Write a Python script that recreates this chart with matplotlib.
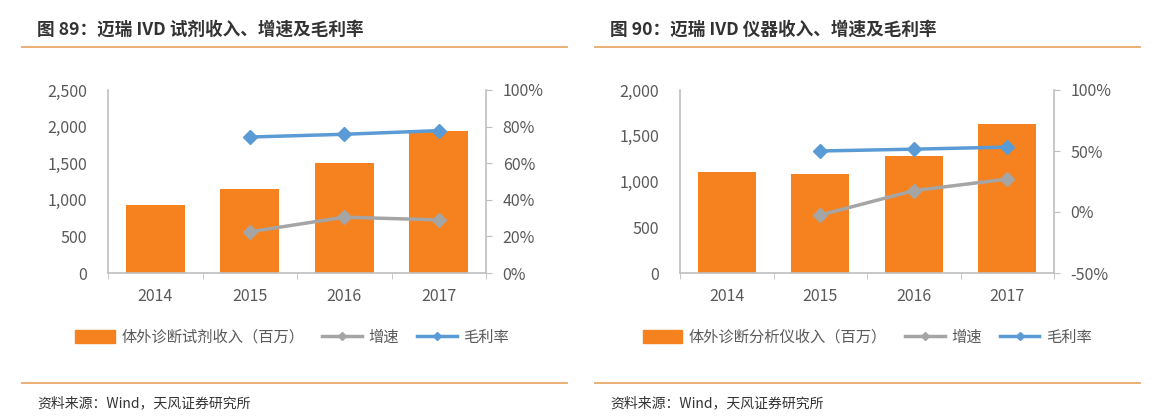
import matplotlib.pyplot as plt
from matplotlib.lines import Line2D
from matplotlib.patches import Patch
from matplotlib.ticker import FuncFormatter, FixedLocator

plt.rcParams['font.family'] = ['Noto Sans CJK SC', 'DejaVu Sans']

years = ['2014', '2015', '2016', '2017']

# 图 89: reagent revenue (million), growth and gross margin
reagent_rev = [935, 1148, 1500, 1945]
reagent_growth = [None, 22.5, 30.5, 29.0]
reagent_margin = [None, 74.3, 75.8, 77.8]

# 图 90: instrument revenue (million), growth and gross margin
instr_rev = [1108, 1082, 1280, 1632]
instr_growth = [None, -2.5, 17.5, 27.0]
instr_margin = [None, 50.0, 51.5, 53.2]

titles = ['图 89：迈瑞 IVD 试剂收入、增速及毛利率', '图 90：迈瑞 IVD 仪器收入、增速及毛利率']
bar_labels = ['体外诊断试剂收入（百万）', '体外诊断分析仪收入（百万）']
source = '资料来源：Wind，天风证券研究所'

ORANGE = '#F5821F'
GRAY = '#A5A5A5'
BLUE = '#5B9BD5'
SPINE = '#BFBFBF'
TXT = '#595959'
RULE = '#E9A86A'

W, H = 1153, 418
fig = plt.figure(figsize=(W / 100, H / 100), dpi=100)


def px_axes(x0, y0, x1, y1):
    return fig.add_axes([x0 / W, 1 - y1 / H, (x1 - x0) / W, (y1 - y0) / H])


def panel(box, rev, growth, margin, lmax, lstep, rmin, rmax, rstep, frame_x, title, blabel, legend_x):
    ax = px_axes(*box)
    x = range(len(years))
    ax.bar(x, rev, width=0.62, color=ORANGE, zorder=2)
    ax.set_xlim(-0.5, len(years) - 0.5)
    ax.set_ylim(0, lmax)
    ax.set_yticks(range(0, lmax + 1, lstep))
    ax.yaxis.set_major_formatter(FuncFormatter(lambda v, p: f'{int(v):,}'))
    ax.set_xticks(list(x))
    ax.set_xticklabels(years)
    ax.xaxis.set_minor_locator(FixedLocator([i - 0.5 for i in range(len(years) + 1)]))
    ax.tick_params(axis='x', which='major', length=0, pad=11, labelsize=11.5, colors=TXT)
    ax.tick_params(axis='x', which='minor', length=4, color=SPINE)
    ax.tick_params(axis='y', length=0, pad=15, labelsize=11.5, colors=TXT)
    for s in ['top', 'right']:
        ax.spines[s].set_visible(False)
    for s in ['left', 'bottom']:
        ax.spines[s].set_color(SPINE)
        ax.spines[s].set_linewidth(1.2)

    ax2 = ax.twinx()
    xs = [i for i, v in enumerate(growth) if v is not None]
    ax2.plot(xs, [growth[i] for i in xs], color=GRAY, lw=2.5, marker='D', ms=7, zorder=3)
    ax2.plot(xs, [margin[i] for i in xs], color=BLUE, lw=2.5, marker='D', ms=7, zorder=3)
    ax2.set_ylim(rmin, rmax)
    ax2.set_yticks(range(rmin, rmax + 1, rstep))
    ax2.yaxis.set_major_formatter(FuncFormatter(lambda v, p: f'{int(v)}%'))
    ax2.tick_params(axis='y', length=4, color=SPINE, pad=8, labelsize=11.5, colors=TXT)
    for s in ['top', 'left', 'bottom']:
        ax2.spines[s].set_visible(False)
    ax2.spines['right'].set_color(SPINE)
    ax2.spines['right'].set_linewidth(1.2)

    x0, x1 = frame_x
    fig.text((x0 + 15) / W, 1 - 30 / H, title, fontsize=12.7, fontweight='bold',
             color='#333333', va='center')
    fig.add_artist(Line2D([x0 / W, x1 / W], [1 - 47 / H] * 2, color=RULE, lw=1.3))
    fig.add_artist(Line2D([x0 / W, x1 / W], [1 - 383 / H] * 2, color=RULE, lw=1.3))
    fig.text((x0 + 15) / W, 1 - 403 / H, source, fontsize=10, color='#333333', va='center')

    handles = [Patch(color=ORANGE),
               Line2D([], [], color=GRAY, lw=2.5, marker='D', ms=4),
               Line2D([], [], color=BLUE, lw=2.5, marker='D', ms=4)]
    fig.legend(handles, [blabel, '增速', '毛利率'], loc='center',
               bbox_to_anchor=(legend_x / W, 1 - 337 / H), ncol=3, frameon=False,
               fontsize=11, labelcolor=TXT, handlelength=2.6, handleheight=0.9,
               columnspacing=1.2, handletextpad=0.4)


panel((108, 90, 486, 273), reagent_rev, reagent_growth, reagent_margin,
      2500, 500, 0, 100, 20, (22, 567), titles[0], bar_labels[0], 292)
panel((680, 90, 1054, 273), instr_rev, instr_growth, instr_margin,
      2000, 500, -50, 100, 50, (595, 1140), titles[1], bar_labels[1], 867)

fig.savefig('out.png', dpi=100, facecolor='white')
